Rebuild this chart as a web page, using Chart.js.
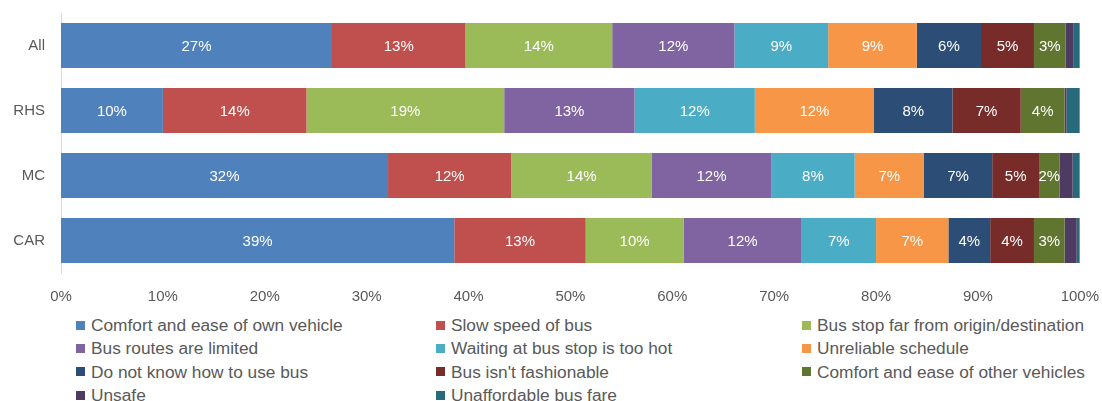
<!DOCTYPE html>
<html lang="en">

<head>
    <meta charset="UTF-8">
    <title>Reasons for not using bus</title>
    <script src="https://cdn.jsdelivr.net/npm/chart.js"></script>
    <style>
        body {
            margin: 0;
            font-family: "Liberation Sans", Arial, sans-serif;
            background: #fff;
            overflow: hidden;
        }

        #chart-container {
            position: relative;
            width: 1106px;
            height: 325px;
            margin-top: -12px;
        }

        #legend {
            display: grid;
            grid-template-columns: 360px 366px 300px;
            margin-left: 76px;
            margin-top: 3px;
            row-gap: 5px;
            font-size: 17.3px;
            line-height: 18px;
            color: #595959;
        }

        #legend div {
            display: flex;
            align-items: center;
            height: 18.3px;
            white-space: nowrap;
        }

        #legend span.box {
            width: 9px;
            height: 9px;
            margin-right: 6px;
            flex: none;
        }
    </style>
</head>

<body>
    <div id="chart-container">
        <canvas id="busChart"></canvas>
    </div>
    <div id="legend"></div>

    <script>
        const groups = ['All', 'RHS', 'MC', 'CAR'];

        const reasons = [
            'Comfort and ease of own vehicle',
            'Slow speed of bus',
            'Bus stop far from origin/destination',
            'Bus routes are limited',
            'Waiting at bus stop is too hot',
            'Unreliable schedule',
            'Do not know how to use bus',
            "Bus isn't fashionable",
            'Comfort and ease of other vehicles',
            'Unsafe',
            'Unaffordable bus fare'
        ];

        const colors = ['#4F81BD', '#C0504D', '#9BBB59', '#8064A2', '#4BACC6', '#F79646',
            '#2C4D75', '#772C2A', '#5F7530', '#4D3B62', '#276A7C'];

        // % of respondents per group (All, RHS, MC, CAR)
        const ownVehicle = [26.6, 10.0, 32.1, 38.6];
        const slowSpeed = [13.1, 14.1, 12.1, 12.9];
        const stopFar = [14.4, 19.4, 13.8, 9.6];
        const routesLimited = [12.0, 12.8, 11.7, 11.6];
        const tooHot = [9.2, 11.8, 8.2, 7.3];
        const unreliable = [8.7, 11.7, 6.8, 7.1];
        const dontKnow = [6.3, 7.7, 6.7, 4.1];
        const notFashionable = [5.2, 6.7, 4.6, 4.3];
        const otherVehicles = [3.1, 4.3, 2.0, 3.0];
        const unsafe = [0.8, 0.2, 1.3, 1.2];
        const fare = [0.6, 1.3, 0.7, 0.3];

        const seriesValues = [ownVehicle, slowSpeed, stopFar, routesLimited, tooHot, unreliable,
            dontKnow, notFashionable, otherVehicles, unsafe, fare];

        const xTicks = [0, 10, 20, 30, 40, 50, 60, 70, 80, 90, 100];

        const datasets = reasons.map((name, i) => ({
            label: name,
            data: seriesValues[i],
            backgroundColor: colors[i],
            borderWidth: 0,
            categoryPercentage: 0.69,
            barPercentage: 1.0
        }));

        // percentage labels inside the bars
        const barLabels = {
            id: 'barLabels',
            afterDatasetsDraw(chart) {
                const ctx = chart.ctx;
                ctx.save();
                ctx.font = '15px "Liberation Sans", Arial, sans-serif';
                ctx.fillStyle = '#ffffff';
                ctx.textAlign = 'center';
                ctx.textBaseline = 'middle';
                chart.data.datasets.forEach((ds, i) => {
                    const meta = chart.getDatasetMeta(i);
                    meta.data.forEach((bar, j) => {
                        const v = ds.data[j];
                        if (v < 1.5) return;
                        const p = bar.getCenterPoint();
                        ctx.fillText(Math.round(v) + '%', p.x, p.y + 1);
                    });
                });
                ctx.restore();
            }
        };

        const ctx = document.getElementById('busChart').getContext('2d');
        new Chart(ctx, {
            type: 'bar',
            data: {
                labels: groups,
                datasets: datasets
            },
            plugins: [barLabels],
            options: {
                indexAxis: 'y',
                responsive: true,
                maintainAspectRatio: false,
                animation: false,
                layout: {
                    padding: { top: -4, right: 10, left: 0, bottom: 0 }
                },
                scales: {
                    x: {
                        stacked: true,
                        min: 0,
                        max: 100,
                        afterBuildTicks: (scale) => {
                            scale.ticks = xTicks.map(v => ({ value: v }));
                        },
                        ticks: {
                            callback: v => v + '%',
                            color: '#595959',
                            font: { size: 15, family: '"Liberation Sans", Arial, sans-serif' },
                            padding: 7,
                            maxRotation: 0
                        },
                        grid: { display: false },
                        border: { display: false }
                    },
                    y: {
                        stacked: true,
                        afterFit: (scale) => { scale.width = 61; },
                        ticks: {
                            color: '#595959',
                            font: { size: 15, family: '"Liberation Sans", Arial, sans-serif' },
                            padding: 16
                        },
                        grid: { display: false, drawTicks: false },
                        border: { display: true, color: '#D9D9D9', width: 1 }
                    }
                },
                plugins: {
                    legend: { display: false },
                    tooltip: { enabled: false }
                }
            }
        });

        // legend in three columns, like the original
        const legendEl = document.getElementById('legend');
        reasons.forEach((name, i) => {
            const item = document.createElement('div');
            const box = document.createElement('span');
            box.className = 'box';
            box.style.background = colors[i];
            item.appendChild(box);
            item.appendChild(document.createTextNode(name));
            legendEl.appendChild(item);
        });
    </script>
</body>

</html>
